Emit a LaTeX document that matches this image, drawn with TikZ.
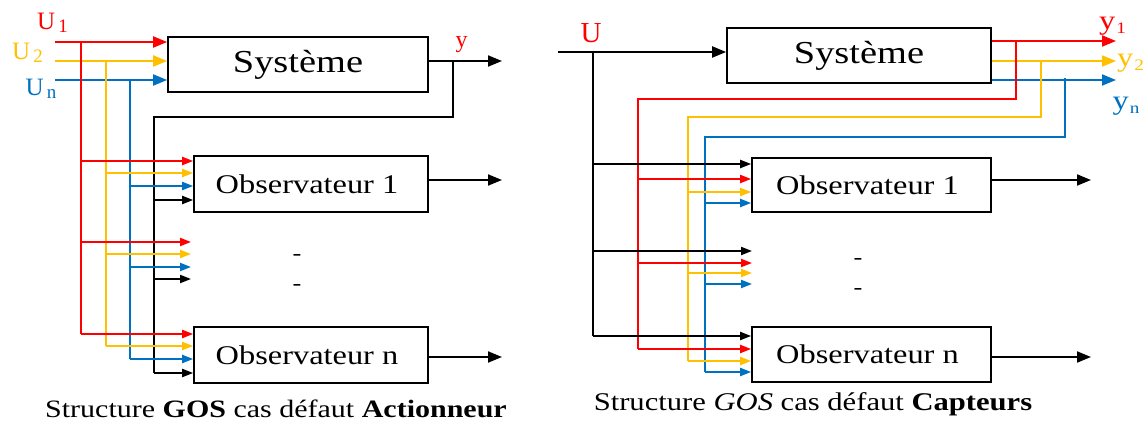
\documentclass[tikz,border=0pt]{standalone}
\usepackage{fontspec}
\setmainfont{Liberation Serif}[FakeStretch=1.2]
\newfontfamily\lf{Liberation Serif}
\usetikzlibrary{arrows.meta}
\definecolor{cR}{RGB}{255,0,0}
\definecolor{cY}{RGB}{255,192,0}
\definecolor{cB}{RGB}{0,112,192}
\newcommand\fsz[1]{\fontsize{#1}{#1}\selectfont}
\newcommand\usub[1]{\hspace{3pt}\raisebox{-3.5pt}{\fsz{19}#1}}
\newcommand\ysub[1]{\hspace{1pt}\raisebox{-4pt}{\fsz{16}#1}}
\begin{document}
\begin{tikzpicture}[x=1pt,y=-1pt,line width=2pt,
 box/.style={draw,line width=1.7pt,inner sep=0pt,rectangle},
 big/.style={-{Triangle[length=14pt,width=11pt]}},
 sm/.style={-{Triangle[length=11pt,width=8pt]}},
 lab/.style={inner sep=0pt},
 dsh/.style={inner sep=0pt,anchor=base,font=\fsz{22}}]
\useasboundingbox (0,0) rectangle (1146,422);
% ================= LEFT =================
\node[box,minimum width=260pt,minimum height=55pt,font=\fsz{32}] (s1) at (298,64.5) {Système};
\node[box,minimum width=234pt,minimum height=56pt,font=\fsz{27}] (o11) at (311,184) {Observateur 1\hspace*{8pt}};
\node[box,minimum width=234pt,minimum height=56pt,font=\fsz{27}] (o1n) at (311,355) {Observateur n\hspace*{8pt}};
\node[lab,text=cR,font=\lf\fsz{25}] (lu1) at (52.5,23) {U\usub{1}};
\node[lab,text=cY,font=\lf\fsz{25}] (lu2) at (27.5,53) {U\usub{2}};
\node[lab,text=cB,font=\lf\fsz{25}] (lun) at (41,89) {U\usub{n}};
\node[lab,text=cR,font=\lf\fsz{24}] (ly) at (461.5,45) {y};
\node[dsh] (d11) at (297,261) {-};
\node[dsh] (d12) at (297,290) {-};
\node[lab,font=\fsz{25}] (cap1) at (276,409) {Structure \textbf{GOS} cas défaut \textbf{Actionneur}};
\coordinate (u1) at (55,42);
\coordinate (u2) at (55,61);
\coordinate (un) at (55,80);
\coordinate (rT) at (81,42);  \coordinate (rB) at (81,334);
\coordinate (yT) at (106,61); \coordinate (yB) at (106,346);
\coordinate (bT) at (130,80); \coordinate (bB) at (130,359);
\coordinate (kT) at (154,117); \coordinate (kB) at (154,373);
\coordinate (m1) at (191,260);
\coordinate (yo) at (502,61);
\coordinate (ybr) at (453,61);
\coordinate (oo1) at (502,180);
\coordinate (oon) at (502,357);
\draw[cR,big] (u1) -- (u1 -| s1.west);
\draw[cY,big] (u2) -- (u2 -| s1.west);
\draw[cB,big] (un) -- (un -| s1.west);
\draw[cR] (rT) -- (rB);
\draw[cY] (yT) -- (yB);
\draw[cB] (bT) -- (bB);
\draw (ybr) |- (kT) -- (kB);
\draw[big] (s1.east |- yo) -- (yo);
% inputs observer 1
\draw[cR,sm] (rT |- 0,161) -- (o11.west |- 0,161);
\draw[cY,sm] (yT |- 0,173) -- (o11.west |- 0,173);
\draw[cB,sm] (bT |- 0,186) -- (o11.west |- 0,186);
\draw[sm] (kT |- 0,200) -- (o11.west |- 0,200);
% middle
\draw[cR,sm] (rT |- 0,242) -- (m1 |- 0,242);
\draw[cY,sm] (yT |- 0,254) -- (m1 |- 0,254);
\draw[cB,sm] (bT |- 0,267) -- (m1 |- 0,267);
\draw[sm] (kT |- 0,279) -- (m1 |- 0,279);
% inputs observer n
\draw[cR,sm] (rB) -- (rB -| o1n.west);
\draw[cY,sm] (yB) -- (yB -| o1n.west);
\draw[cB,sm] (bB) -- (bB -| o1n.west);
\draw[sm] (kB) -- (kB -| o1n.west);
\draw[big] (o11.east |- oo1) -- (oo1);
\draw[big] (o1n.east |- oon) -- (oon);
% ================= RIGHT =================
\node[box,minimum width=264pt,minimum height=55pt,font=\fsz{32}] (s2) at (859,55.5) {Système};
\node[box,minimum width=239pt,minimum height=54pt,font=\fsz{27}] (o21) at (871.5,185) {Observateur 1\hspace*{8pt}};
\node[box,minimum width=239pt,minimum height=55pt,font=\fsz{27}] (o2n) at (871.5,354.5) {Observateur n\hspace*{8pt}};
\node[lab,text=cR,font=\lf\fsz{29}] (lu) at (591,33) {U};
\node[lab,text=cR,font=\fsz{27}] (ly1) at (1112.5,26) {y\ysub{1}};
\node[lab,text=cY,font=\fsz{27}] (ly2) at (1130.5,63.5) {y\ysub{2}};
\node[lab,text=cB,font=\fsz{27}] (lyn) at (1126,106) {y\ysub{n}};
\node[dsh] (d21) at (858,265) {-};
\node[dsh] (d22) at (858,294) {-};
\node[lab,font=\fsz{25.5}] (cap2) at (813,404) {Structure \textit{GOS} cas défaut \textbf{Capteurs}};
\coordinate (uin) at (558,52);
\coordinate (kT2) at (593,52); \coordinate (kB2) at (593,336);
\coordinate (y1o) at (1116,41);
\coordinate (y2o) at (1116,61);
\coordinate (yno) at (1116,80);
\coordinate (rbr) at (1016,41);  \coordinate (rT2) at (638,99);  \coordinate (rB2) at (638,349);
\coordinate (ybr2) at (1041,61); \coordinate (yT2) at (688,117); \coordinate (yB2) at (688,361);
\coordinate (bbr) at (1065,78); \coordinate (bT2) at (705,137); \coordinate (bB2) at (705,372);
\coordinate (m2) at (752,260);
\coordinate (oo21) at (1091,180);
\coordinate (oo2n) at (1091,357);
\draw[big] (uin) -- (uin -| s2.west);
\draw (kT2) -- (kB2);
\draw[cR,big] (s2.east |- y1o) -- (y1o);
\draw[cY,big] (s2.east |- y2o) -- (y2o);
\draw[cB,big] (s2.east |- yno) -- (yno);
\draw[cR] (rbr) |- (rT2) -- (rB2);
\draw[cY] (ybr2) |- (yT2) -- (yB2);
\draw[cB] (bbr) |- (bT2) -- (bB2);
% inputs observer 1
\draw[sm] (kT2 |- 0,164) -- (o21.west |- 0,164);
\draw[cR,sm] (rT2 |- 0,179) -- (o21.west |- 0,179);
\draw[cY,sm] (yT2 |- 0,192) -- (o21.west |- 0,192);
\draw[cB,sm] (bT2 |- 0,203) -- (o21.west |- 0,203);
% middle
\draw[sm] (kT2 |- 0,251) -- (m2 |- 0,251);
\draw[cR,sm] (rT2 |- 0,263) -- (m2 |- 0,263);
\draw[cY,sm] (yT2 |- 0,273) -- (m2 |- 0,273);
\draw[cB,sm] (bT2 |- 0,284) -- (m2 |- 0,284);
% inputs observer n
\draw[sm] (kB2) -- (kB2 -| o2n.west);
\draw[cR,sm] (rB2) -- (rB2 -| o2n.west);
\draw[cY,sm] (yB2) -- (yB2 -| o2n.west);
\draw[cB,sm] (bB2) -- (bB2 -| o2n.west);
\draw[big] (o21.east |- oo21) -- (oo21);
\draw[big] (o2n.east |- oo2n) -- (oo2n);
\end{tikzpicture}
\end{document}
